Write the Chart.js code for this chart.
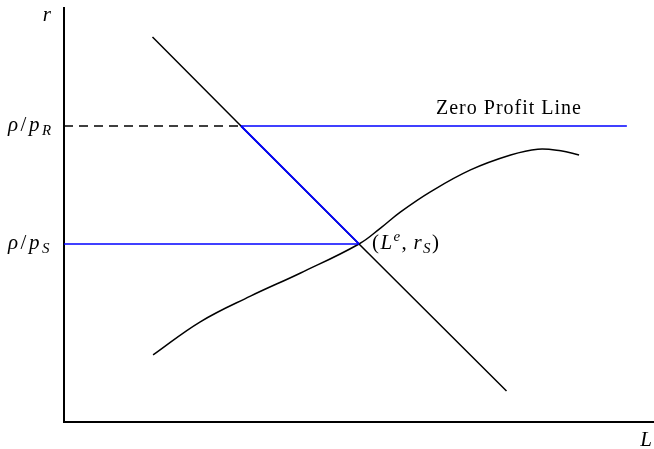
<!DOCTYPE html>
<html>
<head>
<meta charset="utf-8">
<script src="https://cdn.jsdelivr.net/npm/chart.js@4.4.1/dist/chart.umd.min.js"></script>
<style>
  html, body { margin: 0; padding: 0; background: #fff; }
  #wrap { width: 654px; height: 449px; }
</style>
</head>
<body>
<div id="wrap"><canvas id="canvas"></canvas></div>
<script>
// labour demand line (downward sloping)
const demandL = [15, 30, 50, 75];
const demandR = [93.0, 71.5, 43.0, 7.5];

// labour supply curve
const supplyL = [15.1, 23.1, 31.6, 40.1, 50, 53.7, 57.0, 62.1, 68.9, 75.7, 80.3, 84.2, 87.3];
const supplyR = [16.2, 24.2, 30.4, 36.0, 43.0, 46.9, 50.7, 55.6, 60.9, 64.5, 65.9, 65.5, 64.5];

// key levels
const rhoOverPR = 71.5;   // ρ/p_R
const rhoOverPS = 43.0;   // ρ/p_S
const crossR = 30;        // where demand meets ρ/p_R
const Le = 50;            // equilibrium employment
const profitEnd = 95.4;   // right end of zero profit line

const pts = (xs, ys) => xs.map((x, i) => ({x, y: ys[i]}));

const SERIF = '"Liberation Serif", "DejaVu Serif", serif';

// draws a run of math-ish pieces: [text, italic, shift] where shift is "sub"/"sup"/undefined
function mathText(ctx, x, y, parts, size, align, gap = 1.5) {
    const small = Math.round(size * 0.7);
    const fontOf = p => `${p[1] ? "italic " : ""}${p[2] ? small : size}px ${SERIF}`;
    let total = 0;
    parts.forEach(p => { ctx.font = fontOf(p); total += ctx.measureText(p[0]).width + gap; });
    total -= gap;
    let cx = align === "right" ? x - total : align === "center" ? x - total / 2 : x;
    ctx.textBaseline = "alphabetic";
    ctx.textAlign = "left";
    parts.forEach(p => {
        ctx.font = fontOf(p);
        const dy = p[2] === "sub" ? size * 0.2 : p[2] === "sup" ? -size * 0.4 : 0;
        ctx.fillText(p[0], cx, y + dy);
        cx += ctx.measureText(p[0]).width + gap;
    });
}

const labels = {
    id: "labels",
    afterDraw(chart) {
        const {ctx, scales: {x, y}} = chart;
        ctx.save();
        ctx.fillStyle = "#000";
        const fs = 21;
        mathText(ctx, 51, 21, [["r", true]], fs, "right");
        mathText(ctx, 8, y.getPixelForValue(rhoOverPR) + 5,
            [["ρ", true], ["/", false], ["p", true], ["R", true, "sub"]], fs, "left", 2.5);
        mathText(ctx, 8, y.getPixelForValue(rhoOverPS) + 5,
            [["ρ", true], ["/", false], ["p", true], ["S", true, "sub"]], fs, "left", 2.5);
        mathText(ctx, x.getPixelForValue(Le) + 13, y.getPixelForValue(rhoOverPS) + 5,
            [["(", false], ["L", true], ["e", true, "sup"], [", ", false], ["r", true], ["S", true, "sub"], [")", false]], fs, "left", 1.4);
        mathText(ctx, 646, 446, [["L", true]], fs, "center");
        ctx.font = `20px ${SERIF}`;
        ctx.letterSpacing = "1px";
        ctx.textAlign = "center";
        ctx.fillText("Zero Profit Line", 509, 114);
        ctx.restore();
    },
};

new Chart(document.getElementById("canvas"), {
    type: "line",
    data: {
        datasets: [
            {
                label: "dashed",
                data: pts([0, crossR], [rhoOverPR, rhoOverPR]),
                borderColor: "#000",
                borderWidth: 1.5,
                borderDash: [9, 6],
            },
            {
                label: "zero profit",
                data: pts([crossR, profitEnd], [rhoOverPR, rhoOverPR]),
                borderColor: "#0000ff",
                borderWidth: 1.5,
            },
            {
                label: "blue diagonal",
                data: pts([crossR, Le], [rhoOverPR, rhoOverPS]),
                borderColor: "#0000ff",
                borderWidth: 1.8,
            },
            {
                label: "blue low",
                data: pts([0, Le], [rhoOverPS, rhoOverPS]),
                borderColor: "#0000ff",
                borderWidth: 1.5,
            },
            {
                label: "demand",
                data: pts(demandL, demandR),
                borderColor: "#000",
                borderWidth: 1.5,
            },
            {
                label: "supply",
                data: pts(supplyL, supplyR),
                borderColor: "#000",
                borderWidth: 1.5,
                tension: 0.4,
            },
        ],
    },
    options: {
        responsive: true,
        maintainAspectRatio: false,
        animation: false,
        events: [],
        elements: {point: {radius: 0}, line: {fill: false}},
        plugins: {legend: {display: false}, tooltip: {enabled: false}},
        layout: {padding: {left: 64, right: 0, top: 8, bottom: 27}},
        scales: {
            x: {
                type: "linear",
                min: 0,
                max: 100,
                grid: {display: false, drawTicks: false},
                ticks: {display: false},
                border: {display: true, color: "#000", width: 2},
            },
            y: {
                type: "linear",
                min: 0,
                max: 100,
                grid: {display: false, drawTicks: false},
                ticks: {display: false},
                border: {display: true, color: "#000", width: 2},
            },
        },
    },
    plugins: [labels],
});
</script>
</body>
</html>
